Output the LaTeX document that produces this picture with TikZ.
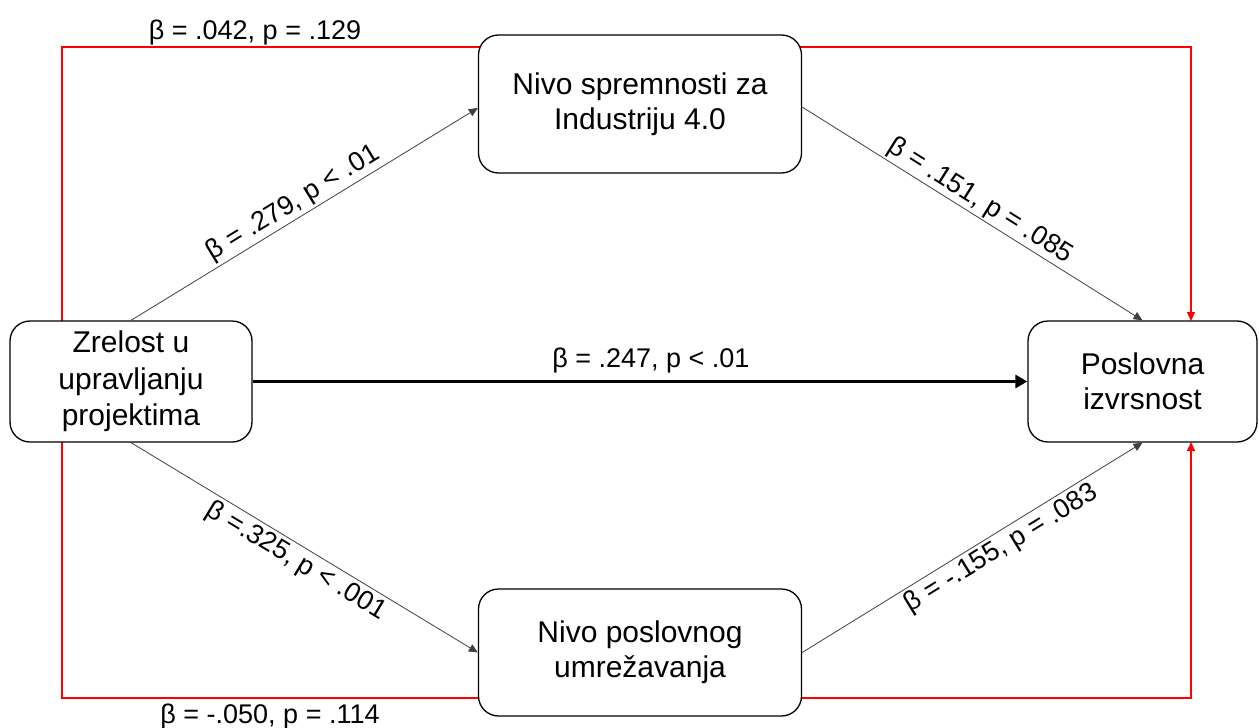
\documentclass[tikz,border=0pt]{standalone}
\usepackage{fontspec}
\setmainfont{Liberation Sans}
\usetikzlibrary{arrows.meta,calc}
\begin{document}
\begin{tikzpicture}[x=1pt,y=-1pt,
  box/.style={draw=black,line width=1.3pt,rounded corners=20pt,fill=white,
    align=center,font=\fontsize{30}{35}\selectfont,inner sep=0pt},
  link/.style={draw=black!75,line width=0.8pt,-{Triangle[length=9pt,width=8pt]}},
  direct/.style={draw=black,line width=3pt,-{Triangle[length=12pt,width=13pt]}},
  ctrl/.style={draw=red,line width=1.4pt,-{Triangle[length=9pt,width=8pt]}},
  coef/.style={font=\fontsize{27}{32}\selectfont,inner sep=2pt}]
\useasboundingbox (0,0) rectangle (1259,728);
\fill[white] (0,0) rectangle (1259,728);

% anchor points for the control paths (boxes are placed later, on top)
\coordinate (topy) at (0,47);
\coordinate (boty) at (0,698);
\coordinate (zrTop) at (62,321);
\coordinate (zrBot) at (62,442);
\coordinate (perfTop) at (1191,321);
\coordinate (perfBot) at (1191,442);

% control paths (red), running behind the mediator boxes
\draw[ctrl] (zrTop) -- (zrTop |- topy) -| (perfTop);
\draw[ctrl] (zrBot) -- (zrBot |- boty) -| (perfBot);
\node[coef,anchor=base] (lt) at (255,39) {β = .042, p = .129};
\node[coef,anchor=base] (lb) at (270,723) {β = -.050, p = .114};

% constructs
\node[box,minimum width=242pt,minimum height=121pt,font=\fontsize{30}{36.5}\selectfont]
  (zr) at (131,381.5) {Zrelost u\\upravljanju\\projektima};
\node[box,minimum width=323pt,minimum height=138pt] (ind) at (640,104)
  {Nivo spremnosti za\\Industriju 4.0};
\node[box,minimum width=323pt,minimum height=127pt] (mreza) at (640,652.5)
  {Nivo poslovnog\\umrežavanja};
\node[box,minimum width=229pt,minimum height=121pt] (perf) at (1142.5,381.5)
  {Poslovna\\izvrsnost};

% mediated paths
\draw[link] (zr.north) -- ([yshift=-4pt]ind.west)
  node[coef,sloped,above,pos=0.49] (l1) {β = .279, p < .01};
\draw[link] ([yshift=-3pt]ind.east) -- (perf.north)
  node[coef,sloped,above,pos=0.5] (l2) {β = .151, p = .085};
\draw[link] (zr.south) -- (mreza.west)
  node[coef,sloped,below,pos=0.5,inner sep=3pt] (l3) {β =.325, p < .001};
\draw[link] (mreza.east) -- (perf.south)
  node[coef,sloped,below,pos=0.56,inner sep=3pt] (l4) {β = -.155, p = .083};

% direct effect
\draw[direct] (zr.east) -- (perf.west)
  node[coef,above=5pt,pos=0.514] (l0) {β = .247, p < .01};
\end{tikzpicture}
\end{document}
